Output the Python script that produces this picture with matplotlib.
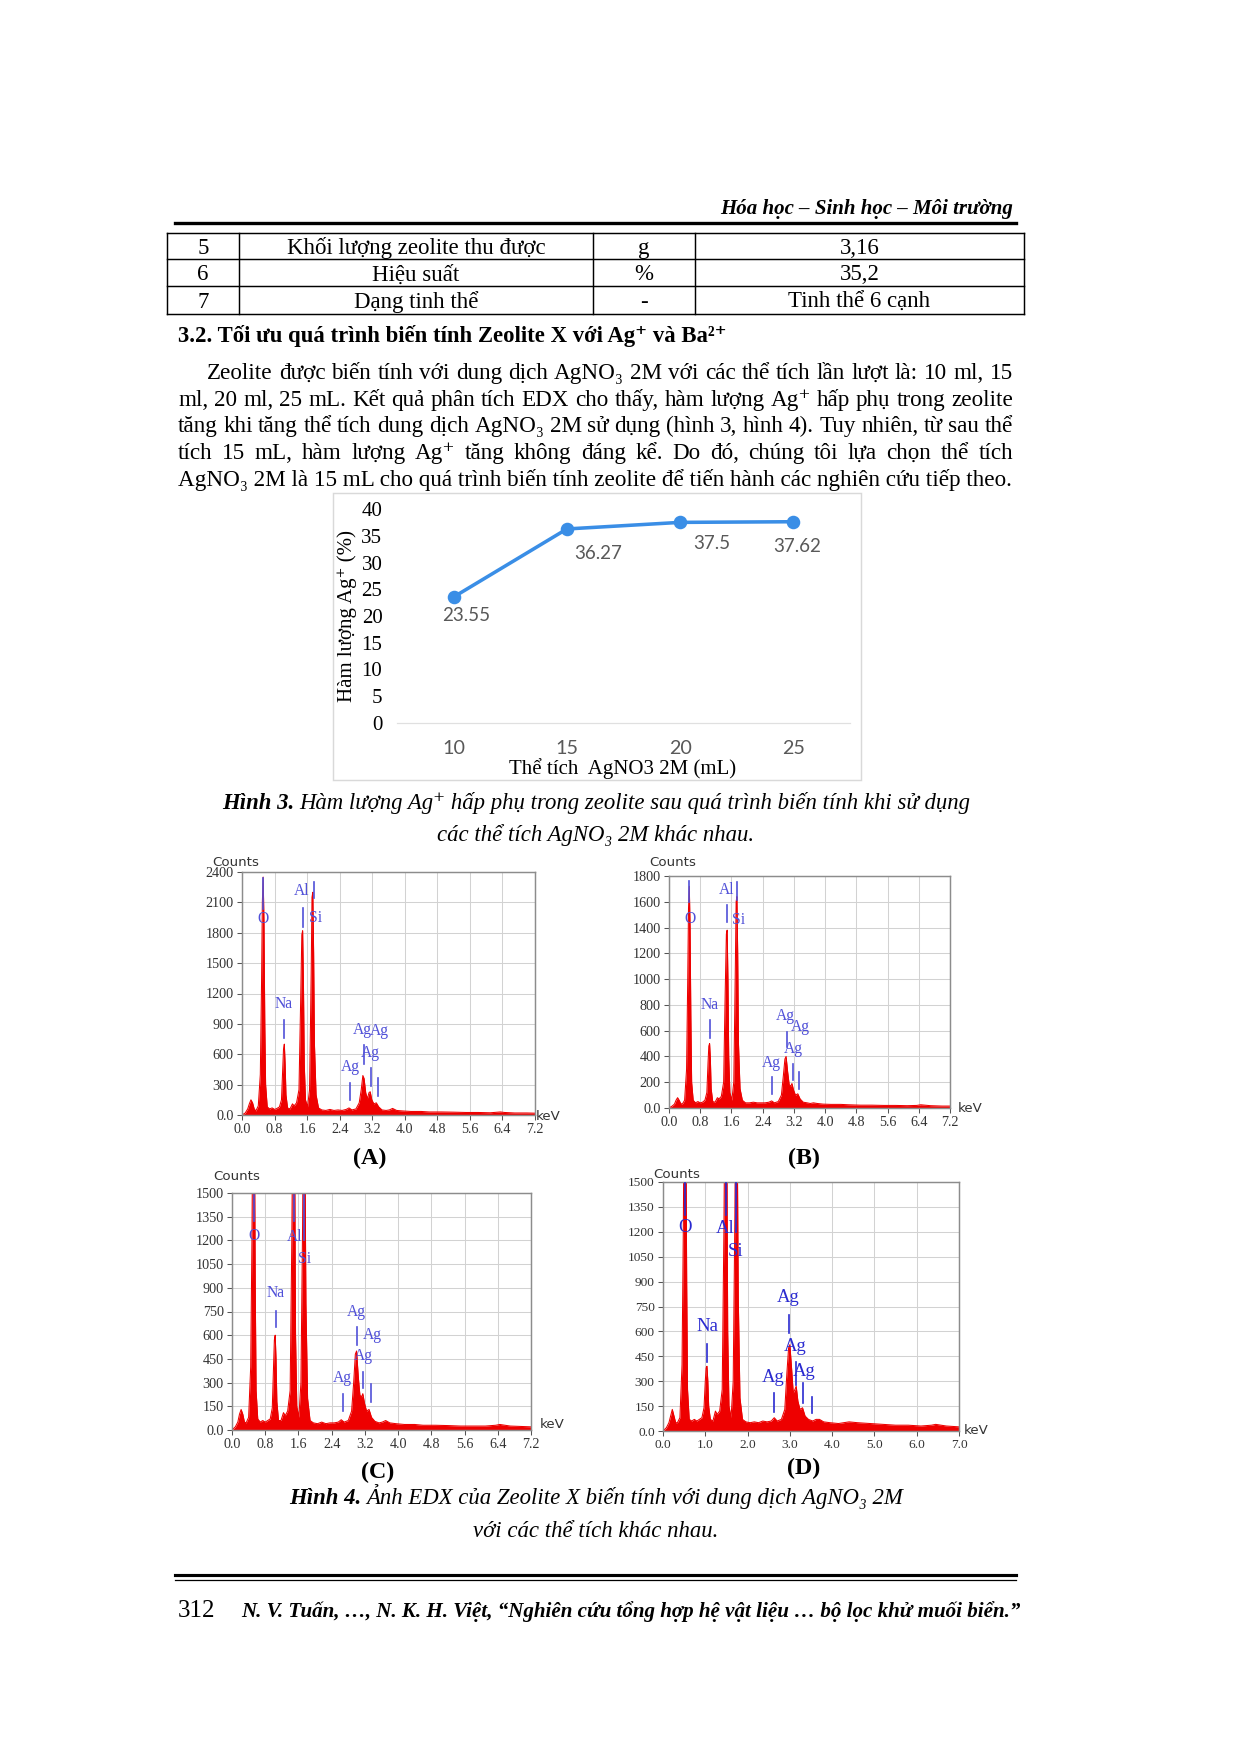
import numpy as np
import matplotlib
matplotlib.use("Agg")
import matplotlib.pyplot as plt
from matplotlib.lines import Line2D
from matplotlib.patches import Rectangle

SERIF = ['Liberation Serif', 'DejaVu Serif']
plt.rcParams['font.family'] = SERIF

W, H, DPI = 1240, 1753, 150

# ---- table (end of table 2) ----
row_no = ["5", "6", "7"]
row_name = ["Khối lượng zeolite thu được", "Hiệu suất", "Dạng tinh thể"]
row_unit = ["g", "%", "-"]
row_value = ["3,16", "35,2", "Tinh thể 6 cạnh"]

# ---- paragraph ----
para_lines = [
    "Zeolite được biến tính với dung dịch AgNO₃ 2M với các thể tích lần lượt là: 10 ml, 15",
    "ml, 20 ml, 25 mL. Kết quả phân tích EDX cho thấy, hàm lượng Ag⁺ hấp phụ trong zeolite",
    "tăng khi tăng thể tích dung dịch AgNO₃ 2M sử dụng (hình 3, hình 4). Tuy nhiên, từ sau thể",
    "tích 15 mL, hàm lượng Ag⁺ tăng không đáng kể. Do đó, chúng tôi lựa chọn thể tích",
    "AgNO₃ 2M là 15 mL cho quá trình biến tính zeolite để tiến hành các nghiên cứu tiếp theo.",
]

# ---- figure 3: Ag content vs AgNO3 volume ----
volume = [10, 15, 20, 25]
ag_content = [23.55, 36.27, 37.5, 37.62]

# ---- figure 4: EDX spectra (keV, counts) ----
kev = [
    0.00, 0.08, 0.14, 0.18, 0.22, 0.26, 0.30, 0.34, 0.40,
    0.45, 0.48, 0.50, 0.52, 0.54, 0.56, 0.58, 0.62,
    0.68, 0.74, 0.80, 0.86, 0.92, 0.97,
    1.00, 1.02, 1.04, 1.06, 1.08, 1.12,
    1.18, 1.24, 1.28, 1.34, 1.40,
    1.44, 1.47, 1.49, 1.51, 1.53, 1.56,
    1.61, 1.66,
    1.70, 1.72, 1.74, 1.76, 1.78, 1.82, 1.88,
    1.96, 2.06, 2.16, 2.26, 2.36, 2.46, 2.56, 2.63, 2.70, 2.80, 2.88,
    2.93, 2.97, 3.00, 3.04, 3.08, 3.12, 3.15, 3.19, 3.24, 3.30, 3.36, 3.44,
    3.54, 3.62, 3.70, 3.80, 3.95, 4.15, 4.40, 4.60, 4.90, 5.20, 5.50, 5.80,
    6.10, 6.35, 6.45, 6.70, 7.00, 7.20,
]
counts_a = [
    0, 20, 60, 110, 150, 120, 60, 40, 90,
    400, 1300, 2100, 2350, 1900, 900, 300, 80,
    60, 70, 55, 65, 80, 150,
    450, 650, 700, 500, 200, 70,
    60, 110, 90, 120, 250,
    1100, 1780, 1820, 1300, 500, 150,
    80, 250,
    1400, 2150, 2200, 1600, 700, 200, 70,
    50, 45, 55, 45, 50, 45, 55, 70, 50, 60, 120,
    250, 390, 360, 220, 160, 220, 230, 150, 110, 120, 80, 50,
    45, 50, 65, 45, 40, 35, 35, 30, 30, 28, 25, 25,
    22, 30, 25, 20, 20, 18,
]
counts_b = [
    0, 15, 30, 60, 80, 60, 35, 30, 60,
    300, 1000, 1550, 1720, 1400, 700, 200, 60,
    40, 50, 40, 45, 60, 120,
    350, 480, 500, 380, 150, 50,
    45, 80, 70, 90, 200,
    900, 1350, 1380, 1000, 400, 120,
    60, 200,
    1100, 1600, 1640, 1200, 500, 150, 60,
    40, 40, 45, 40, 40, 40, 45, 55, 40, 50, 100,
    250, 380, 400, 280, 180, 170, 190, 140, 100, 110, 70, 45,
    40, 35, 40, 35, 30, 28, 28, 25, 22, 22, 20, 20,
    18, 20, 25, 18, 15, 15,
]
counts_c = [
    0, 20, 50, 100, 130, 100, 50, 45, 80,
    400, 1200, 2000, 2400, 1900, 900, 250, 70,
    50, 60, 50, 60, 70, 140,
    400, 570, 600, 450, 180, 60,
    60, 110, 90, 120, 250,
    1200, 2200, 2400, 1700, 600, 150,
    80, 300,
    1300, 2100, 2200, 1600, 800, 200, 60,
    45, 40, 50, 40, 45, 45, 50, 65, 50, 60, 120,
    300, 480, 500, 340, 220, 210, 230, 170, 120, 130, 80, 55,
    45, 50, 60, 45, 40, 35, 35, 30, 30, 28, 25, 25,
    25, 30, 35, 25, 22, 20,
]
counts_d = [
    0, 20, 50, 90, 130, 90, 50, 50, 80,
    400, 1200, 2000, 2400, 1900, 900, 250, 70,
    60, 70, 60, 70, 80, 140,
    300, 380, 390, 300, 150, 70,
    60, 120, 100, 120, 250,
    1200, 2200, 2400, 1700, 600, 150,
    80, 300,
    1300, 2100, 2200, 1600, 800, 200, 70,
    55, 50, 55, 50, 60, 55, 60, 80, 60, 70, 130,
    350, 500, 520, 380, 230, 250, 270, 180, 130, 140, 90, 70,
    60, 70, 70, 55, 50, 45, 55, 50, 45, 40, 35, 35,
    30, 35, 40, 30, 25, 25,
]
for c in (counts_a, counts_b, counts_c, counts_d):
    assert len(c) == len(kev)

# element marks: label, label keV, label counts, line keV, line from, line to
marks_a = [("O", 0.52, 1940, 0.525, 2030, 2340), ("Al", 1.47, 2210, 1.49, 1860, 2040),
           ("Si", 1.80, 1944, 1.76, 2140, 2300), ("Na", 1.03, 1097, 1.04, 760, 935),
           ("Ag", 2.66, 470, 2.66, 145, 320), ("Ag", 2.95, 840, 2.99, 500, 690),
           ("Ag", 3.38, 825, 3.35, 185, 365), ("Ag", 3.16, 610, 3.18, 285, 460)]
marks_b = [("O", 0.53, 1470, 0.50, 1600, 1760), ("Al", 1.47, 1690, 1.49, 1445, 1575),
           ("Si", 1.77, 1458, 1.73, 1613, 1756), ("Na", 1.04, 798, 1.06, 540, 680),
           ("Ag", 2.62, 352, 2.64, 110, 240), ("Ag", 2.98, 715, 3.02, 475, 590),
           ("Ag", 3.37, 629, 3.33, 150, 280), ("Ag", 3.18, 456, 3.17, 215, 345)]
marks_c = [("O", 0.54, 1225, 0.54, 1320, 1490), ("Al", 1.50, 1219, 1.50, 1320, 1490),
           ("Si", 1.75, 1082, 1.74, 1200, 1490), ("Na", 1.04, 866, 1.05, 650, 755),
           ("Ag", 2.99, 750, 3.00, 540, 650), ("Ag", 3.37, 602, 3.35, 180, 290),
           ("Ag", 3.16, 470, 3.16, 265, 370), ("Ag", 2.66, 327, 2.67, 120, 230)]
marks_d = [("O", 0.51, 1223, 0.52, 1300, 1500), ("Al", 1.46, 1219, 1.48, 1300, 1500),
           ("Si", 1.72, 1083, 1.73, 1200, 1500), ("Na", 1.04, 628, 1.04, 415, 527),
           ("Ag", 2.97, 802, 2.98, 588, 698), ("Ag", 3.12, 511, 3.14, 277, 417),
           ("Ag", 3.34, 357, 3.30, 166, 287), ("", 0, 0, 3.52, 106, 207),
           ("Ag", 2.61, 321, 2.63, 116, 227)]

fig = plt.figure(figsize=(W / DPI, H / DPI), dpi=DPI)
fig.patch.set_facecolor('white')
renderer = fig.canvas.get_renderer()


def fx(x):
    return x / W


def fy(y):
    return 1 - y / H


def put(x, y, s, **kw):
    kw.setdefault('va', 'baseline')
    return fig.text(fx(x), fy(y), s, **kw)


def width_px(t):
    return t.get_window_extent(renderer).width


def hline(x0, x1, y, lw=0.7):
    fig.add_artist(Line2D([fx(x0), fx(x1)], [fy(y), fy(y)], lw=lw, color='black'))


def vline(x, y0, y1, lw=0.7):
    fig.add_artist(Line2D([fx(x), fx(x)], [fy(y0), fy(y1)], lw=lw, color='black'))


def add_axes_px(l, t, r, b):
    return fig.add_axes([fx(l), fy(b), (r - l) / W, (b - t) / H])


def justify(line, x0, x1, y, **kw):
    words = line.split()
    items = [put(x0, y, w, **kw) for w in words]
    ws = [width_px(t) for t in items]
    gap = (x1 - x0 - sum(ws)) / (len(words) - 1)
    x = x0
    for t, w in zip(items, ws):
        t.set_x(fx(x))
        x += w + gap


def caption(bold, rest, y, cx=596, size=10.95):
    t1 = put(0, y, bold, size=size, weight='bold', style='italic')
    t2 = put(0, y, rest, size=size, style='italic')
    w1, w2 = width_px(t1), width_px(t2)
    gap = 5
    x0 = cx - (w1 + gap + w2) / 2
    t1.set_x(fx(x0))
    t2.set_x(fx(x0 + w1 + gap))


BODY = 11.1

# ---- header ----
put(1013, 214, "Hóa học – Sinh học – Môi trường", size=10.0, weight='bold',
    style='italic', ha='right')
hline(175, 1016, 222.5, lw=1.6)

# ---- table ----
cols = [167, 239, 593, 695, 1024]
rows = [233, 259, 286, 314]
for y in rows:
    hline(cols[0], cols[-1], y)
for x in cols:
    vline(x, rows[0], rows[-1])
for i in range(3):
    yb = (rows[i] + rows[i + 1]) / 2 + 8
    for j, txt in enumerate([row_no[i], row_name[i], row_unit[i], row_value[i]]):
        put((cols[j] + cols[j + 1]) / 2, yb, txt, size=11.0, ha='center')

# ---- section heading and paragraph ----
put(178, 342, "3.2. Tối ưu quá trình biến tính Zeolite X với Ag⁺ và Ba²⁺",
    size=10.95, weight='bold')
baselines = [379, 406, 432, 459, 486]
for k, line in enumerate(para_lines):
    x0 = 207 if k == 0 else 178
    if k < len(para_lines) - 1:
        justify(line, x0, 1013, baselines[k], size=BODY)
    else:
        put(x0, baselines[k], line, size=BODY)

# ---- figure 3 ----
fig.add_artist(Rectangle((fx(333), fy(780)), (861 - 333) / W, (780 - 493) / H,
                         transform=fig.transFigure, fill=False,
                         edgecolor='#d9d9d9', lw=0.7))
ax = add_axes_px(397, 509, 850, 723)
blue = '#3a8ee6'
ax.plot(volume, ag_content, color=blue, lw=1.7, marker='o', ms=5.5,
        mfc=blue, mec=blue, clip_on=False)
ax.set_xlim(7.5, 27.5)
ax.set_ylim(0, 40)
ax.set_xticks(volume)
ax.set_yticks(range(0, 41, 5))
for s in ['top', 'right', 'left']:
    ax.spines[s].set_visible(False)
ax.spines['bottom'].set_color('#e0e0e0')
ax.spines['bottom'].set_linewidth(0.6)
ax.tick_params(axis='both', length=0)
ax.tick_params(axis='y', pad=7, labelsize=10)
ax.tick_params(axis='x', pad=8, labelsize=9.5, labelcolor='#595959')
for lab in ax.get_xticklabels():
    lab.set_fontfamily('Lato')
label_offsets = [(6, -9), (15, -12), (15, -10), (2, -12)]
for xv, yv, off in zip(volume, ag_content, label_offsets):
    ax.annotate(f"{yv:g}", (xv, yv), xytext=off, textcoords='offset points',
                ha='center', va='center', fontsize=9, color='#595959',
                family='Lato')
put(347, 616, "Hàm lượng Ag⁺ (%)", size=10, rotation=90, ha='center', va='center')
put(623, 769, "Thể tích  AgNO3 2M (mL)", size=10, ha='center', va='center')

caption("Hình 3.", "Hàm lượng Ag⁺ hấp phụ trong zeolite sau quá trình biến tính khi sử dụng", 809)
put(596, 841, "các thể tích AgNO₃ 2M khác nhau.", size=10.95, style='italic', ha='center')

# ---- figure 4 ----
RED = '#ee0000'


def draw_edx(box, counts, ymax, ystep, xmax, xstep, marks, tag, tag_xy,
             counts_xy, kev_xy, msize=7.5, mcolor='#5050d8', tsize=6.8):
    l, t, r, b = box
    ax = add_axes_px(l, t, r, b)
    ax.fill_between(kev, counts, 0, color=RED, lw=0, zorder=2)
    ax.plot(kev, counts, color=RED, lw=0.5, zorder=2)
    ax.set_xlim(0, xmax)
    ax.set_ylim(0, ymax)
    xt = np.arange(0, xmax + 1e-6, xstep)
    yt = np.arange(0, ymax + 1e-6, ystep)
    ax.set_xticks(xt)
    ax.set_yticks(yt)
    ax.set_xticklabels([f"{v:.1f}" for v in xt])
    ax.set_yticklabels(["0.0" if v == 0 else f"{int(v)}" for v in yt])
    ax.grid(True, color='#d2d2d2', lw=0.5)
    ax.set_axisbelow(True)
    for s in ax.spines.values():
        s.set_color('#8c8c8c')
        s.set_linewidth(0.7)
    ax.tick_params(labelsize=tsize, labelcolor='#333333', color='#555555',
                   length=2.5, width=0.5, pad=1.5)
    for lab, lx, ly, ex, e0, e1 in marks:
        ax.plot([ex, ex], [e0, e1], color=mcolor, lw=0.8, zorder=4)
        if lab:
            ax.text(lx, ly, lab, ha='center', va='center', fontsize=msize,
                    color=mcolor, zorder=5, family=SERIF)
    put(counts_xy[0], counts_xy[1], "Counts", size=6.4, color='#333333',
        family='DejaVu Sans', ha='center', va='center')
    put(kev_xy[0], kev_xy[1], "keV", size=6.4, color='#333333',
        family='DejaVu Sans', ha='left', va='center')
    put(tag_xy[0], tag_xy[1], tag, size=11.5, weight='bold', ha='center', va='center')
    return ax


draw_edx((242, 872, 535, 1115), counts_a, 2400, 300, 7.2, 0.8, marks_a,
         "(A)", (370, 1158), (236, 863), (536, 1117))
draw_edx((669, 876, 950, 1108), counts_b, 1800, 200, 7.2, 0.8, marks_b,
         "(B)", (804, 1158), (673, 862), (958, 1109))
draw_edx((232, 1193, 531, 1430), counts_c, 1500, 150, 7.2, 0.8, marks_c,
         "(C)", (378, 1472), (237, 1177), (540, 1425))
draw_edx((663, 1182, 959, 1431), counts_d, 1500, 150, 7.0, 1.0, marks_d,
         "(D)", (804, 1468), (677, 1175), (964, 1430), msize=9, mcolor='#2a2ad0',
         tsize=6.4)

caption("Hình 4.", "Ảnh EDX của Zeolite X biến tính với dung dịch AgNO₃ 2M", 1504)
put(596, 1537, "với các thể tích khác nhau.", size=10.95, style='italic', ha='center')

# ---- footer ----
hline(175, 1016, 1575, lw=1.5)
hline(175, 1016, 1579.5, lw=0.6)
put(178, 1617, "312", size=12)
put(241, 1617, "N. V. Tuấn, …, N. K. H. Việt, “Nghiên cứu tổng hợp hệ vật liệu … bộ lọc khử muối biển.”",
    size=10.1, weight='bold', style='italic')

fig.savefig("out.png", dpi=DPI)
